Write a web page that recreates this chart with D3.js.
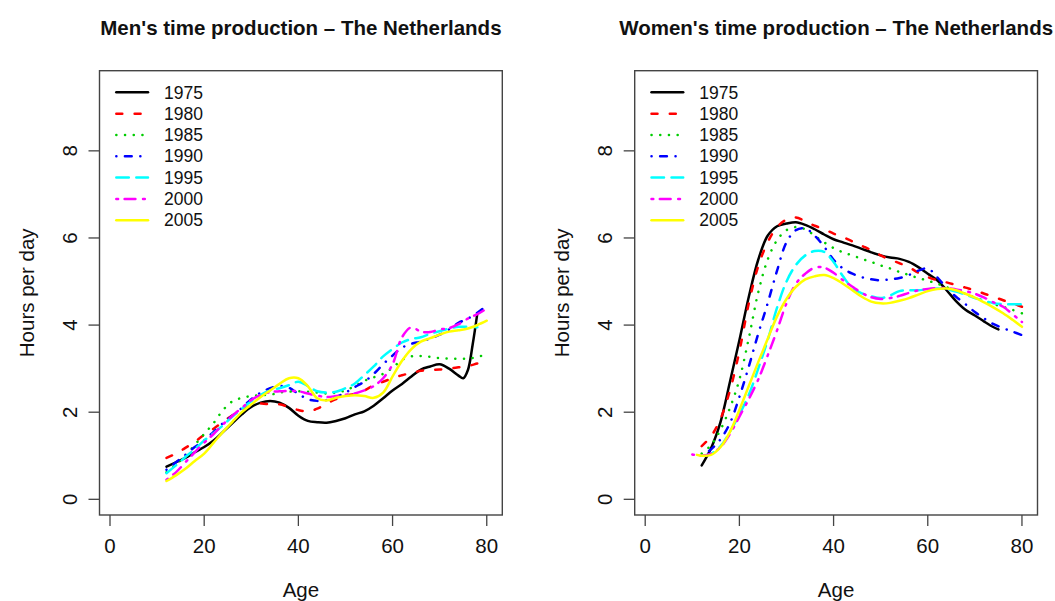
<!DOCTYPE html>
<html>
<head>
<meta charset="utf-8">
<script src="https://cdn.jsdelivr.net/npm/d3@7"></script>
<style>
  body { margin: 0; background: #fff; }
  text { font-family: "Liberation Sans", Arial, Helvetica, sans-serif; fill: #111; }
</style>
</head>
<body>
<div id="chart"></div>
<script>
const years = ["1975", "1980", "1985", "1990", "1995", "2000", "2005"];
const xTicks = [0, 20, 40, 60, 80];
const yTicks = [0, 2, 4, 6, 8];

// men, [age, hours per day]
const men1975 = [[12,0.75],[14,0.85],[16,0.95],[18,1.08],[20,1.2],[22,1.35],[24,1.55],[26,1.75],[28,1.95],[30,2.12],[32,2.22],[34,2.26],[36,2.22],[38,2.1],[40,1.92],[42,1.8],[44,1.77],[46,1.76],[48,1.8],[50,1.86],[52,1.95],[54,2.02],[56,2.15],[58,2.32],[60,2.5],[62,2.65],[64,2.82],[66,2.98],[68,3.05],[70,3.1],[72,3.0],[74,2.84],[75,2.78],[76,2.97],[77,3.55],[78,4.27]];
const men1980 = [[12,0.95],[14,1.05],[16,1.18],[18,1.32],[20,1.48],[22,1.62],[24,1.78],[26,1.93],[28,2.05],[30,2.15],[32,2.2],[34,2.18],[36,2.18],[38,2.12],[40,2.05],[42,2.02],[44,2.08],[46,2.2],[48,2.3],[50,2.38],[52,2.42],[54,2.5],[56,2.62],[58,2.7],[60,2.78],[62,2.85],[64,2.9],[66,2.95],[68,2.97],[70,2.98],[72,3.0],[74,3.03],[76,3.06],[78,3.12],[80,3.18]];
const men1985 = [[12,0.62],[14,0.8],[16,1.0],[18,1.25],[20,1.5],[22,1.75],[24,2.05],[26,2.25],[28,2.33],[30,2.37],[32,2.39],[34,2.4],[36,2.45],[38,2.47],[40,2.48],[42,2.47],[44,2.45],[46,2.43],[48,2.45],[50,2.5],[52,2.6],[54,2.72],[56,2.8],[58,2.88],[60,3.02],[62,3.2],[64,3.28],[66,3.29],[68,3.27],[70,3.24],[72,3.23],[74,3.23],[76,3.23],[78,3.27],[80,3.33]];
const men1990 = [[12,0.68],[14,0.85],[16,1.02],[18,1.2],[20,1.35],[22,1.55],[24,1.75],[26,1.92],[28,2.1],[30,2.3],[32,2.45],[34,2.55],[36,2.6],[38,2.56],[40,2.42],[42,2.3],[44,2.26],[46,2.28],[48,2.35],[50,2.45],[52,2.58],[54,2.7],[56,2.88],[58,3.1],[60,3.3],[62,3.48],[64,3.57],[66,3.62],[68,3.69],[70,3.78],[72,3.9],[74,4.05],[76,4.15],[78,4.28],[80,4.45]];
const men1995 = [[12,0.6],[14,0.78],[16,0.97],[18,1.15],[20,1.35],[22,1.52],[24,1.7],[26,1.9],[28,2.08],[30,2.25],[32,2.4],[34,2.5],[36,2.55],[38,2.62],[40,2.7],[42,2.6],[44,2.48],[46,2.45],[48,2.47],[50,2.55],[52,2.66],[54,2.85],[56,3.05],[58,3.28],[60,3.45],[62,3.6],[64,3.68],[66,3.72],[68,3.8],[70,3.86],[72,3.92],[74,3.96],[76,3.96],[78,3.95]];
const men2000 = [[12,0.45],[14,0.62],[16,0.85],[18,1.08],[20,1.3],[22,1.5],[24,1.72],[26,1.92],[28,2.1],[30,2.28],[32,2.4],[34,2.46],[36,2.48],[38,2.49],[40,2.48],[42,2.43],[44,2.38],[46,2.35],[48,2.37],[50,2.4],[52,2.43],[54,2.5],[56,2.6],[58,2.78],[60,3.1],[62,3.72],[64,3.95],[66,3.85],[68,3.84],[70,3.9],[72,3.93],[74,4.02],[76,4.15],[78,4.25],[80,4.38]];
const men2005 = [[12,0.42],[14,0.55],[16,0.7],[18,0.88],[20,1.05],[22,1.3],[24,1.55],[26,1.78],[28,2.0],[30,2.18],[32,2.35],[34,2.5],[36,2.65],[38,2.78],[40,2.78],[42,2.6],[44,2.32],[46,2.27],[48,2.33],[50,2.37],[52,2.39],[54,2.37],[56,2.33],[58,2.45],[60,2.82],[62,3.18],[64,3.45],[66,3.62],[68,3.7],[70,3.78],[72,3.85],[74,3.88],[76,3.92],[78,4.0],[80,4.1]];

// women
const women1975 = [[12,0.78],[14,1.18],[16,1.78],[18,2.7],[20,3.65],[22,4.65],[24,5.5],[26,6.05],[28,6.27],[30,6.33],[32,6.36],[34,6.3],[36,6.2],[38,6.08],[40,5.97],[42,5.9],[44,5.83],[46,5.75],[48,5.67],[50,5.6],[52,5.55],[54,5.52],[56,5.45],[58,5.33],[60,5.18],[62,5.03],[64,4.8],[66,4.55],[68,4.35],[70,4.22],[72,4.08],[74,3.95],[75,3.9]];
const women1980 = [[12,1.22],[14,1.45],[16,1.85],[18,2.5],[20,3.4],[22,4.5],[24,5.35],[26,5.9],[28,6.25],[30,6.42],[32,6.47],[34,6.38],[36,6.28],[38,6.2],[40,6.1],[42,6.02],[44,5.92],[46,5.82],[48,5.72],[50,5.6],[52,5.5],[54,5.42],[56,5.33],[58,5.2],[60,5.1],[62,5.03],[64,4.98],[66,4.92],[68,4.86],[70,4.8],[72,4.72],[74,4.65],[76,4.57],[78,4.5],[80,4.42]];
const women1985 = [[12,1.05],[14,1.25],[16,1.6],[18,2.1],[20,2.75],[22,3.7],[24,4.75],[26,5.5],[28,5.95],[30,6.18],[32,6.25],[34,6.2],[36,6.05],[38,5.9],[40,5.77],[42,5.67],[44,5.6],[46,5.52],[48,5.45],[50,5.37],[52,5.3],[54,5.22],[56,5.15],[58,5.08],[60,5.02],[62,4.95],[64,4.87],[66,4.8],[68,4.72],[70,4.63],[72,4.56],[74,4.48],[76,4.42],[78,4.35],[80,4.27]];
const women1990 = [[12,1.0],[14,1.15],[16,1.38],[18,1.75],[20,2.35],[22,3.05],[24,3.8],[26,4.5],[28,5.25],[30,5.9],[32,6.18],[34,6.22],[36,6.05],[38,5.8],[40,5.5],[42,5.3],[44,5.18],[46,5.1],[48,5.05],[50,5.03],[52,5.05],[54,5.08],[56,5.15],[58,5.25],[60,5.3],[62,5.1],[64,4.85],[66,4.65],[68,4.48],[70,4.3],[72,4.15],[74,4.02],[76,3.93],[78,3.85],[80,3.77]];
const women1995 = [[12,1.0],[14,1.05],[16,1.22],[18,1.55],[20,1.95],[22,2.4],[24,3.0],[26,3.65],[28,4.4],[30,5.0],[32,5.38],[34,5.6],[36,5.7],[38,5.68],[40,5.45],[42,5.12],[44,4.85],[46,4.73],[48,4.66],[50,4.62],[52,4.68],[54,4.78],[56,4.8],[58,4.8],[60,4.82],[62,4.84],[64,4.82],[66,4.77],[68,4.7],[70,4.62],[72,4.56],[74,4.5],[76,4.48],[78,4.48],[80,4.48]];
const women2000 = [[10,1.03],[12,1.0],[14,1.05],[16,1.2],[18,1.5],[20,1.9],[22,2.3],[24,2.75],[26,3.3],[28,3.88],[30,4.5],[32,4.95],[34,5.18],[36,5.32],[38,5.32],[40,5.2],[42,5.03],[44,4.88],[46,4.74],[48,4.64],[50,4.6],[52,4.62],[54,4.67],[56,4.74],[58,4.8],[60,4.83],[62,4.85],[64,4.85],[66,4.82],[68,4.78],[70,4.72],[72,4.63],[74,4.52],[76,4.42],[78,4.25],[80,4.07]];
const women2005 = [[11,1.02],[12,1.0],[14,1.02],[16,1.2],[18,1.55],[20,2.05],[22,2.6],[24,3.15],[26,3.68],[28,4.2],[30,4.6],[32,4.88],[34,5.05],[36,5.12],[38,5.15],[40,5.08],[42,4.95],[44,4.8],[46,4.65],[48,4.54],[50,4.5],[52,4.51],[54,4.56],[56,4.62],[58,4.7],[60,4.78],[62,4.83],[64,4.84],[66,4.8],[68,4.72],[70,4.63],[72,4.52],[74,4.4],[76,4.27],[78,4.12],[80,3.96]];

const menSeries = [men1975, men1980, men1985, men1990, men1995, men2000, men2005];
const womenSeries = [women1975, women1980, women1985, women1990, women1995, women2000, women2005];

// R palette 1:7 and lty 1:6 (+1 again)
const colors = ["#000000", "#FF0000", "#00CD00", "#0000FF", "#00FFFF", "#FF00FF", "#FFFF00"];
const dashes = [null, "6,12.3", "0.1,8.6", "0.1,8.5,6.8,8.6", "12.5,7.5", "1.8,6.5,10.8,7.6", null];

const width = 1055, height = 601;
const plotW = 402.8, plotH = 444.3, plotTop = 70.7;
const lineH = 22.7; // one margin line in px

const svg = d3.select("#chart").append("svg")
  .attr("width", width).attr("height", height)
  .attr("viewBox", `0 0 ${width} ${height}`);

const drawPanel = (left, title, series) => {
  const x = d3.scaleLinear().domain([-2.23, 83.3]).range([0, plotW]);
  const y = d3.scaleLinear().domain([-0.36, 9.84]).range([plotH, 0]);

  const g = svg.append("g").attr("transform", `translate(${left},${plotTop})`);

  // lines
  const line = d3.line()
    .x(d => x(d[0]))
    .y(d => y(d[1]))
    .curve(d3.curveCatmullRom.alpha(0.5));

  series.forEach((s, i) => {
    g.append("path")
      .attr("d", line(s))
      .attr("fill", "none")
      .attr("stroke", colors[i])
      .attr("stroke-width", 2.5)
      .attr("stroke-linecap", "round")
      .attr("stroke-linejoin", "round")
      .attr("stroke-dasharray", dashes[i]);
  });

  // box
  g.append("rect")
    .attr("width", plotW).attr("height", plotH)
    .attr("fill", "none").attr("stroke", "#444").attr("stroke-width", 1.4);

  // x axis
  const xa = g.append("g").attr("transform", `translate(0,${plotH})`);
  xa.selectAll("line").data(xTicks).join("line")
    .attr("x1", d => x(d)).attr("x2", d => x(d))
    .attr("y1", 0).attr("y2", 11)
    .attr("stroke", "#444").attr("stroke-width", 1.3);
  xa.selectAll("text").data(xTicks).join("text")
    .attr("x", d => x(d)).attr("y", 38.3)
    .attr("text-anchor", "middle").attr("font-size", 20.5)
    .text(d => d);

  // y axis
  const ya = g.append("g");
  ya.selectAll("line").data(yTicks).join("line")
    .attr("x1", -11).attr("x2", 0)
    .attr("y1", d => y(d)).attr("y2", d => y(d))
    .attr("stroke", "#444").attr("stroke-width", 1.3);
  ya.selectAll("text").data(yTicks).join("text")
    .attr("transform", d => `translate(${-lineH},${y(d)}) rotate(-90)`)
    .attr("text-anchor", "middle").attr("font-size", 20.5)
    .text(d => d);

  // labels
  g.append("text")
    .attr("x", plotW / 2).attr("y", plotH + 81.7)
    .attr("text-anchor", "middle").attr("font-size", 20.5)
    .text("Age");
  g.append("text")
    .attr("transform", `translate(${-65.5},${plotH / 2}) rotate(-90)`)
    .attr("text-anchor", "middle").attr("font-size", 20.5)
    .text("Hours per day");
  g.append("text")
    .attr("x", plotW / 2).attr("y", 35 - plotTop)
    .attr("text-anchor", "middle").attr("font-size", 20.5).attr("font-weight", "bold")
    .text(title);

  // legend
  const legend = g.append("g").attr("transform", `translate(15.5,21.6)`);
  years.forEach((yr, i) => {
    const row = legend.append("g").attr("transform", `translate(0,${i * 21.33})`);
    row.append("line")
      .attr("x1", 1.3).attr("x2", 33)
      .attr("stroke", colors[i]).attr("stroke-width", 2.5)
      .attr("stroke-linecap", "round")
      .attr("stroke-dasharray", dashes[i]);
    row.append("text")
      .attr("x", 49).attr("y", 6.2)
      .attr("font-size", 17.5)
      .text(yr);
  });
};

drawPanel(99.5, "Men's time production \u2013 The Netherlands", menSeries);
drawPanel(634.7, "Women's time production \u2013 The Netherlands", womenSeries);
</script>
</body>
</html>
